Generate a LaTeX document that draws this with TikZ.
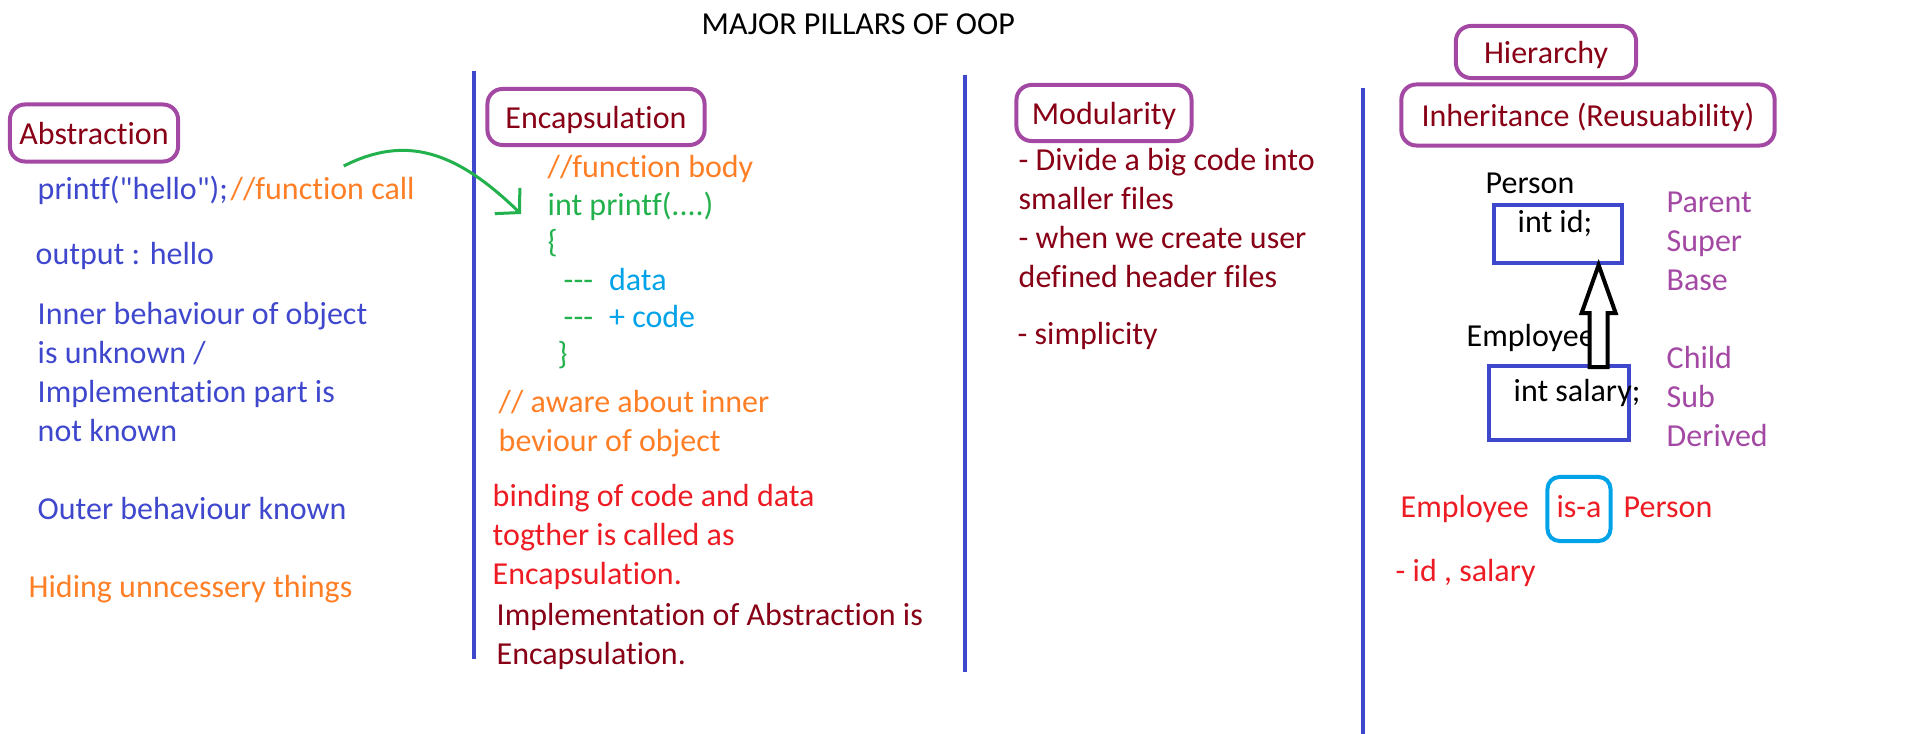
\documentclass[tikz,border=0pt]{standalone}
\usepackage{fontspec}
\setmainfont{Carlito}[Ligatures=NoCommon]
\usetikzlibrary{arrows.meta,calc}
\definecolor{titlered}{HTML}{880015}
\definecolor{boxpurple}{HTML}{A349A4}
\definecolor{inkblue}{HTML}{3F48CC}
\definecolor{inkorange}{HTML}{FF7F27}
\definecolor{inkgreen}{HTML}{22B14C}
\definecolor{inkcyan}{HTML}{00A2E8}
\definecolor{inkred}{HTML}{ED1C24}
\begin{document}
\begin{tikzpicture}[x=0.01cm,y=-0.01cm,
  every node/.style={font=\fontsize{9.1}{11.1}\selectfont},
  txt/.style={anchor=base west, inner sep=0pt, align=left},
  pillar/.style={draw=boxpurple, line width=0.04cm, rounded corners=0.15cm, text=titlered, inner sep=0pt, text height=0.24cm, text depth=0cm},
  divider/.style={draw=inkblue, line width=0.045cm},
  classbox/.style={draw=inkblue, line width=0.04cm, inner sep=0pt},
  hollow/.style={draw=black, fill=white, line width=0.04cm},
  callarrow/.style={draw=inkgreen, line width=0.03cm, -{Straight Barb[length=0.17cm,width=0.36cm]}}]
\useasboundingbox (0,0) rectangle (1914,734);
\node[txt] (title) at (701,35) {MAJOR PILLARS OF OOP};
\draw[divider] (474,71) -- (474,659);
\draw[divider] (965,75) -- (965,672);
\draw[divider] (1363,88) -- (1363,734);

\node[pillar, minimum width=1.68cm, minimum height=0.57cm] (abs) at (94,133) {Abstraction};
\node[txt, text=inkblue] (call) at (37,200) {printf(\textquotedbl hello\textquotedbl);};
\node[txt, text=inkorange] (fcall) at (230,200) {//function call};
\node[txt, text=inkblue] (output) at (35,265) {output : hello};
\node[txt, text=inkblue] (inner) at (37,442) {Inner behaviour of object\\is unknown /\\Implementation part is\\not known};
\node[txt, text=inkblue] (outer) at (37,520) {Outer behaviour known};
\node[txt, text=inkorange] (hiding) at (28,598) {Hiding unncessery things};

\node[pillar, minimum width=2.17cm, minimum height=0.56cm] (encap) at (596,117) {Encapsulation\hspace{0.15cm}};
\node[txt, text=inkgreen, font=\fontsize{9.1}{10.64}\selectfont] (body) at (547,365) {\textcolor{inkorange}{//function body}\\int printf(....)\\\{\\\hspace*{0.16cm}-{}-{}-\enspace\textcolor{inkcyan}{data}\\\hspace*{0.16cm}-{}-{}-\enspace\textcolor{inkcyan}{+ code}\\\hspace*{0.1cm}\}};
\node[txt, text=inkorange] (aware) at (498,452) {// aware about inner\\beviour of object};
\node[txt, text=inkred] (binding) at (492,585) {binding of code and data\\togther is called as\\Encapsulation.};
\node[txt, text=titlered] (impl) at (496,665) {Implementation of Abstraction is\\Encapsulation.};
\coordinate (calltip) at (521,214);
\draw[callarrow] ([shift={(21,-11)}]fcall.north) .. controls (405,135) and (455,150) .. (calltip);

\node[pillar, minimum width=1.75cm, minimum height=0.56cm] (modul) at (1104,113) {Modularity\hspace{0.15cm}};
\node[txt, text=titlered] (divide) at (1018,288) {- Divide a big code into\\smaller files\\- when we create user\\defined header files};
\node[txt, text=titlered] (simple) at (1017,345) {- simplicity};

\node[pillar, minimum width=1.80cm, minimum height=0.52cm] (hier) at (1546,52) {Hierarchy};
\node[pillar, minimum width=3.73cm, minimum height=0.61cm] (inherit) at (1588,115) {Inheritance (Reusuability)};
\node[txt] (person) at (1485,194) {Person};
\node[classbox, minimum width=1.27cm, minimum height=0.58cm] (idbox) at (1558,234) {};
\node[txt] (idtxt) at (1517,233) {int id;};
\node[txt, text=boxpurple] (parent) at (1666,291) {Parent\\Super\\Base};
\node[txt] (employee) at (1466,347) {Employee};
\node[classbox, minimum width=1.39cm, minimum height=0.73cm] (salbox) at (1559,403) {};
\node[txt] (saltxt) at (1513,402) {int salary;};
\node[txt, text=boxpurple] (child) at (1666,447) {Child\\Sub\\Derived};
\coordinate (inhtip) at ($(idbox.south east)!0.19!(idbox.south west)$);
\draw[hollow] (inhtip) -- ++(17,48) -- ++(-8,0) -- ++(0,54) -- ++(-18,0) -- ++(0,-54) -- ++(-8,0) -- cycle;

\node[txt, text=inkred] (emp) at (1400,518) {Employee};
\node[draw=inkcyan, line width=0.04cm, rounded corners=0.12cm, minimum width=0.63cm, minimum height=0.64cm, inner sep=0pt, text height=0.2cm, text depth=0.02cm, text=inkred] (isa) at (1579,509) {is-a};
\node[txt, text=inkred] (per) at (1623,518) {Person};
\node[txt, text=inkred] (members) at (1395,582) {- id , salary};
\end{tikzpicture}
\end{document}
